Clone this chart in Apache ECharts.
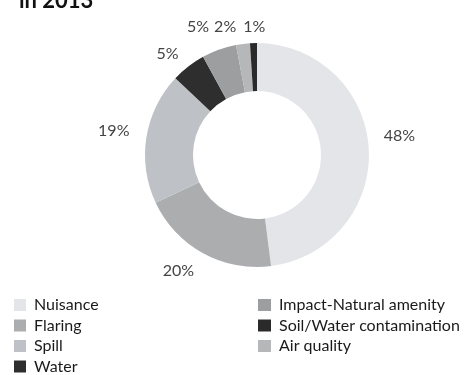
<!DOCTYPE html>
<html><head><meta charset="utf-8">
<script src="https://cdn.jsdelivr.net/npm/echarts@6/dist/echarts.min.js"></script>
<style>html,body{margin:0;padding:0;background:#fff}#c{width:470px;height:375px}</style>
</head><body><div id="c"></div>
<script>
const categories = ['Nuisance','Flaring','Spill','Water','Impact-Natural amenity','Air quality','Soil/Water contamination'];
const values = [48, 20, 19, 5, 5, 2, 1];
const colors = ['#e4e5e8','#acadaf','#bec2c7','#2e2e2e','#9d9ea0','#b6b7b9','#2a2a2a'];
const legendCol1 = ['Nuisance','Flaring','Spill','Water'];
const legendCol2 = ['Impact-Natural amenity','Soil/Water contamination','Air quality'];

// label nudges (styling only)
const labelShift = [[0,-12],[3,12],[-2,-6],[3,-8],[1,-17],[3,-11],[21,-10]];

const chart = echarts.init(document.getElementById('c'));
const legendText = {fontFamily:'Lato', fontSize:16, color:'#1a1a1a', lineHeight:16, padding:[0,0,0,3]};
chart.setOption({
  animation:false,
  title:{text:'in 2013', left:14, top:-15, textStyle:{fontFamily:'Lato', fontWeight:'bold', fontSize:22, color:'#111'}},
  legend:[
    {data:legendCol1, orient:'vertical', left:14, top:297, itemWidth:12, itemHeight:12, itemGap:4.5, icon:'rect', textStyle:legendText, padding:0},
    {data:legendCol2, orient:'vertical', left:258, top:297, itemWidth:13, itemHeight:12, itemGap:4.5, icon:'rect', textStyle:legendText, padding:0}
  ],
  series:[{
    type:'pie',
    center:[257,155],
    radius:[64,112],
    startAngle:90,
    clockwise:true,
    avoidLabelOverlap:false,
    color:colors,
    label:{show:true, position:'outside', formatter:'{c}%', fontFamily:'Lato', fontSize:16, color:'#444'},
    labelLine:{show:false, length:6, length2:4},
    labelLayout:function(p){ const s = labelShift[p.dataIndex]; return {dx:s[0], dy:s[1]}; },
    data: categories.map((n,i)=>({name:n, value:values[i]}))
  }]
});
</script></body></html>
